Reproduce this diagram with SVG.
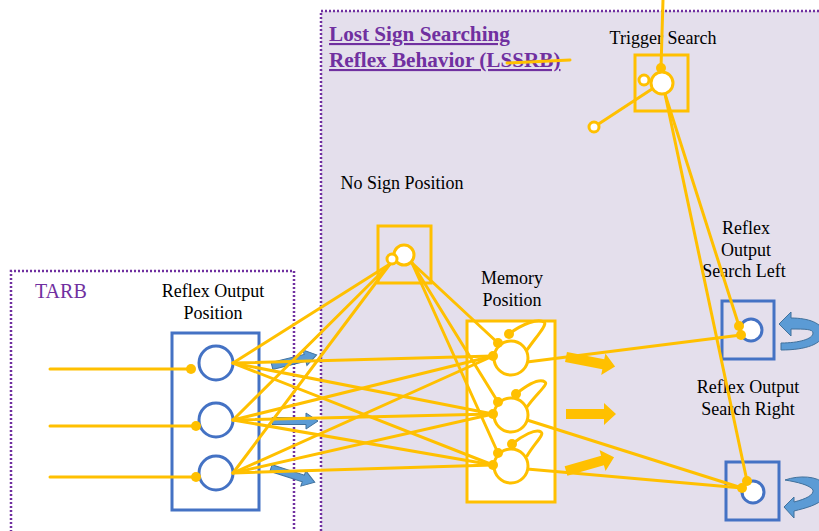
<svg xmlns="http://www.w3.org/2000/svg" width="819" height="531" viewBox="0 0 819 531">
<style>
.reg{stroke:#7030A0;stroke-width:2.5;stroke-dasharray:2 2;}
.lbl{font-family:"Liberation Serif",serif;font-size:18px;fill:#000;text-anchor:middle;}
.ttl{font-family:"Liberation Serif",serif;font-size:21.2px;font-weight:bold;fill:#7030A0;text-decoration:underline;}
.ybox{fill:none;stroke:#FFC000;stroke-width:3;}
.bbox{fill:none;stroke:#4472C4;stroke-width:3;}
.bcirc{fill:#fff;stroke:#4472C4;stroke-width:3;}
.ycirc{fill:#fff;stroke:#FFC000;stroke-width:3;}
.dot{fill:#FFC000;}
.con line,.con path{stroke:#FFC000;stroke-width:3;fill:none;stroke-linecap:round;}
.barrow{fill:#5B9BD5;stroke:#41719C;stroke-width:1;}
.yarrow{fill:#FFC000;}
</style>
<defs>
<path id="ba" d="M0,-3.5 L34,-3.5 L34,-8 L46,0 L34,8 L34,3.5 L0,3.5 Z"/>
<path id="ya" d="M0,-5 L38,-5 L38,-11 L50,0 L38,11 L38,5 L0,5 Z"/>
</defs>
<rect width="819" height="531" fill="#fff"/>
<g id="lssrb">
<rect x="321" y="11" width="510" height="530" fill="#E4DFEC" class="reg"/>
<text class="ttl" x="329" y="41">Lost Sign Searching</text>
<text class="ttl" x="329" y="67">Reflex Behavior (LSSRB)</text>
</g>
<g id="tarb">
<path d="M11,540 L11,271 L294,271 L294,540" fill="none" class="reg"/>
<text x="35" y="298" style="font-family:'Liberation Serif',serif;font-size:20px;fill:#7030A0;">TARB</text>
</g>
<g id="reflex-output-position">
<rect x="172" y="333" width="87" height="177" class="bbox" fill="#fff"/>
<circle cx="216" cy="363" r="17" class="bcirc"/>
<circle cx="216" cy="420" r="17" class="bcirc"/>
<circle cx="216" cy="473" r="17" class="bcirc"/>
<text class="lbl" x="213" y="297">Reflex Output</text>
<text class="lbl" x="213" y="319">Position</text>
</g>
<g id="no-sign-position">
<rect x="378" y="226" width="53" height="57" class="ybox"/>
<text class="lbl" x="402" y="189">No Sign Position</text>
</g>
<g id="memory-position">
<rect x="467" y="321" width="88" height="181" fill="#fff" stroke="#FFC000" stroke-width="3"/>
<text class="lbl" x="512" y="284">Memory</text>
<text class="lbl" x="512" y="306">Position</text>
</g>
<g id="trigger-search">
<rect x="635" y="55" width="53" height="56" class="ybox"/>
<text class="lbl" x="663" y="44">Trigger Search</text>
</g>
<g id="reflex-output-search-left">
<rect x="722" y="301" width="52" height="58" class="bbox"/>
<text class="lbl" x="746" y="234">Reflex</text>
<text class="lbl" x="746" y="256">Output</text>
<text class="lbl" x="744" y="277">Search Left</text>
</g>
<g id="reflex-output-search-right">
<rect x="726" y="462" width="53" height="58" class="bbox"/>
<text class="lbl" x="748" y="393">Reflex Output</text>
<text class="lbl" x="748" y="415">Search Right</text>
</g>
<g id="arrows">
<use href="#ba" class="barrow" transform="translate(272,366) rotate(-14)"/>
<use href="#ba" class="barrow" transform="translate(272,421)"/>
<use href="#ba" class="barrow" transform="translate(271,468) rotate(18)"/>
<use href="#ya" class="yarrow" transform="translate(566,357) rotate(11)"/>
<use href="#ya" class="yarrow" transform="translate(566,414)"/>
<use href="#ya" class="yarrow" transform="translate(566,471) rotate(-16)"/>
<path class="barrow" d="M779,324 L791,312 L791,318 C808,318 823,323 823,333 C823,344 806,350 781,350 L781,343 C799,343 813,339 813,333 C813,329 805,329 791,329 L791,336 Z"/>
<path class="barrow" d="M785,480 C799,475 818,476 824,484 L824,498 C818,505 806,508 794,511 L794,518 L784,507 L794,497 L794,502 C806,499 814,495 813,490 C810,485 797,482 785,480 Z"/>
</g>
<g id="connectors" class="con">
<line x1="50" y1="369" x2="191" y2="369"/>
<line x1="50" y1="426" x2="196" y2="426"/>
<line x1="50" y1="477" x2="196" y2="477"/>
<line x1="233" y1="363" x2="390" y2="264"/>
<line x1="233" y1="420" x2="390" y2="264"/>
<line x1="233" y1="473" x2="390" y2="264"/>
<line x1="233" y1="363" x2="493" y2="356"/>
<line x1="233" y1="363" x2="493" y2="414"/>
<line x1="233" y1="363" x2="493" y2="465"/>
<line x1="233" y1="420" x2="493" y2="356"/>
<line x1="233" y1="420" x2="493" y2="414"/>
<line x1="233" y1="420" x2="493" y2="465"/>
<line x1="233" y1="473" x2="493" y2="356"/>
<line x1="233" y1="473" x2="493" y2="414"/>
<line x1="233" y1="473" x2="493" y2="465"/>
<line x1="412" y1="263" x2="498" y2="343"/>
<line x1="412" y1="263" x2="498" y2="402"/>
<line x1="412" y1="263" x2="498" y2="453"/>
<line x1="527" y1="362" x2="741" y2="335"/>
<line x1="527" y1="420" x2="742" y2="488"/>
<line x1="527" y1="469" x2="742" y2="488"/>
<line x1="665" y1="94" x2="739" y2="326"/>
<line x1="665" y1="94" x2="747" y2="481"/>
<line x1="661" y1="68" x2="663" y2="0"/>
<line x1="652" y1="89" x2="594" y2="127"/>
<line x1="507" y1="63" x2="570" y2="60"/>
<path d="M527,350 C536,337 548,324 544,322 C538,318 522,324 509,334"/>
<path d="M527,407 C536,394 549,384 545,382 C539,378 526,386 516,394"/>
<path d="M527,456 C534,444 545,434 541,432 C536,428 522,436 512,444"/>
</g>
<g id="memory-neurons">
<circle cx="511" cy="358" r="17" class="ycirc"/>
<circle cx="511" cy="415" r="17" class="ycirc"/>
<circle cx="511" cy="466" r="17" class="ycirc"/>
</g>
<g id="no-sign-cells">
<circle cx="404" cy="255" r="10" class="ycirc"/>
<circle cx="392" cy="259" r="5" class="ycirc"/>
</g>
<g id="trigger-cells">
<circle cx="662" cy="83" r="11" class="ycirc"/>
<circle cx="644" cy="80" r="5" class="ycirc"/>
<circle cx="594" cy="127" r="5" class="ycirc"/>
</g>
<g id="search-cells">
<circle cx="751" cy="330" r="11" class="bcirc"/>
<circle cx="753" cy="492" r="11" class="bcirc"/>
</g>
<g id="terminals">
<circle cx="191" cy="369" r="5" class="dot"/>
<circle cx="196" cy="426" r="5" class="dot"/>
<circle cx="196" cy="477" r="5" class="dot"/>
<circle cx="493" cy="356" r="5" class="dot"/>
<circle cx="498" cy="343" r="5" class="dot"/>
<circle cx="509" cy="334" r="5" class="dot"/>
<circle cx="493" cy="414" r="5" class="dot"/>
<circle cx="498" cy="402" r="5" class="dot"/>
<circle cx="516" cy="394" r="5" class="dot"/>
<circle cx="493" cy="465" r="5" class="dot"/>
<circle cx="498" cy="453" r="5" class="dot"/>
<circle cx="512" cy="444" r="5" class="dot"/>
<circle cx="661" cy="68" r="5" class="dot"/>
<circle cx="739" cy="326" r="5" class="dot"/>
<circle cx="741" cy="335" r="5" class="dot"/>
<circle cx="747" cy="481" r="5" class="dot"/>
<circle cx="742" cy="488" r="5" class="dot"/>
</g>
</svg>
